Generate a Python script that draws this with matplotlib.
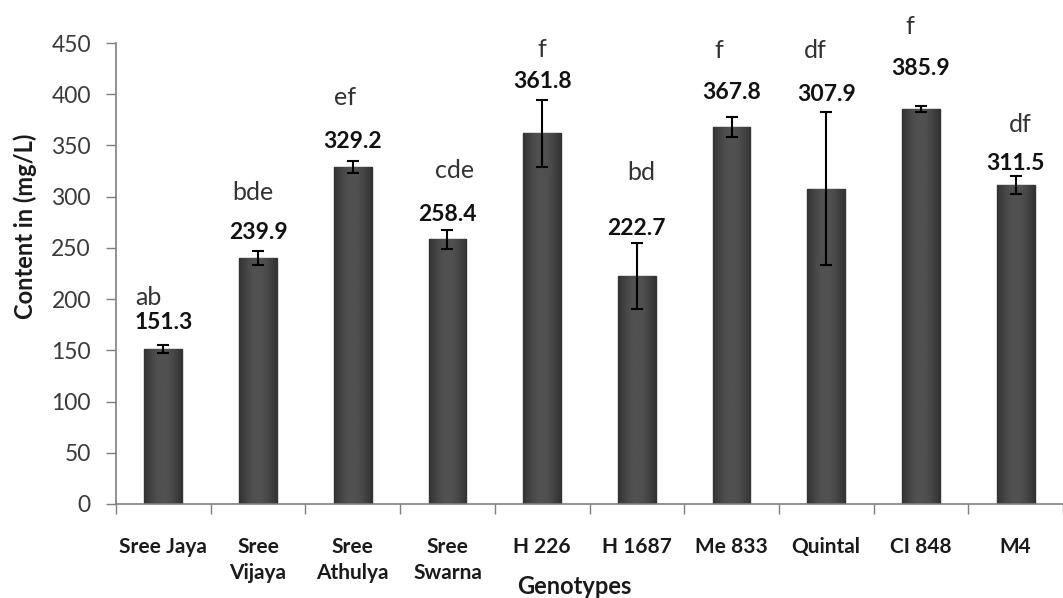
import matplotlib
matplotlib.use("Agg")
import matplotlib.pyplot as plt
import numpy as np

# ---- data ----
genotypes = ["Sree Jaya", "Sree\nVijaya", "Sree\nAthulya", "Sree\nSwarna", "H 226",
             "H 1687", "Me 833", "Quintal", "CI 848", "M4"]
means = [151.3, 239.9, 329.2, 258.4, 361.8, 222.7, 367.8, 307.9, 385.9, 311.5]
errors = [4, 7, 6, 9, 33, 32, 10, 75, 3, 9]
letters = ["ab", "bde", "ef", "cde", "f", "bd", "f", "df", "f", "df"]
yticks = [0, 50, 100, 150, 200, 250, 300, 350, 400, 450]

# ---- layout (annotation placement, data units / pixels) ----
value_label_y = [177, 265, 354, 283, 412, 269, 402, 400, 425, 332]
letter_label_y = [202, 304, 397, 326, 444, 324, 443, 443, 466, 370]
letter_dx_px = [-15, -5, -8, 7, 0, 4, -13, -11, -11, 5]

plt.rcParams['font.family'] = ['Lato', 'DejaVu Sans']

W, H = 1063, 598
fig = plt.figure(figsize=(W / 100, H / 100), dpi=100)
ax = fig.add_axes([116 / W, (H - 504) / H, (W - 116) / W, (504 - 43) / H])

x = np.arange(len(means))
bars = ax.bar(x, means, width=0.4, color="#4a4a4a", edgecolor="#333333", linewidth=1.0, zorder=2)

# subtle horizontal shading inside each bar (cylinder look)
grad = np.linspace(0, 1, 64)
shade = 0.20 + 0.12 * np.sin(np.pi * grad)
for b in bars:
    x0, w, h = b.get_x(), b.get_width(), b.get_height()
    im = ax.imshow(shade[None, :], cmap="gray", vmin=0, vmax=1, aspect="auto",
                   extent=[x0, x0 + w, 0, h], zorder=2.1, interpolation="bicubic")
    im.set_clip_path(b)

ax.errorbar(x, means, yerr=errors, fmt="none", ecolor="black", elinewidth=1.5,
            capsize=4, capthick=1.5, zorder=3)

ax.set_ylim(0, 450)
ax.set_xlim(-0.5, -0.5 + (W - 116) / 95.6)
ax.set_yticks(yticks)
ax.tick_params(axis="y", direction="out", length=7, width=1, color="#7f7f7f",
               labelsize=16.5, labelcolor="#3a3a3a", pad=11)

ax.set_xticks(x)
ax.set_xticklabels(genotypes, fontsize=15, fontweight="bold", color="#1a1a1a",
                   linespacing=1.35)
ax.tick_params(axis="x", which="major", length=0, pad=24)
ax.set_xticks(np.arange(-0.5, len(means), 1.0), minor=True)
ax.tick_params(axis="x", which="minor", direction="out", length=7, width=1, color="#7f7f7f")

for s in ["top", "right"]:
    ax.spines[s].set_visible(False)
for s in ["left", "bottom"]:
    ax.spines[s].set_color("#7f7f7f")
    ax.spines[s].set_linewidth(1.2)

for i in range(len(means)):
    ax.annotate(f"{means[i]:.1f}", (x[i], value_label_y[i]), ha="center", va="center",
                fontsize=16.5, fontweight="bold", color="#111111", annotation_clip=False)
    ax.annotate(letters[i], (x[i], letter_label_y[i]), xytext=(letter_dx_px[i] * 0.72, 0),
                textcoords="offset points", ha="center", va="center",
                fontsize=18, color="#333333", annotation_clip=False)

fig.text(25 / W, 1 - 226 / H, "Content in (mg/L)", rotation=90, ha="center", va="center",
         fontsize=17, fontweight="bold", color="#1a1a1a")
fig.text(574 / W, 1 - 587 / H, "Genotypes", ha="center", va="center",
         fontsize=17, fontweight="bold", color="#1a1a1a")

fig.savefig("out.png", dpi=100, facecolor="white")
